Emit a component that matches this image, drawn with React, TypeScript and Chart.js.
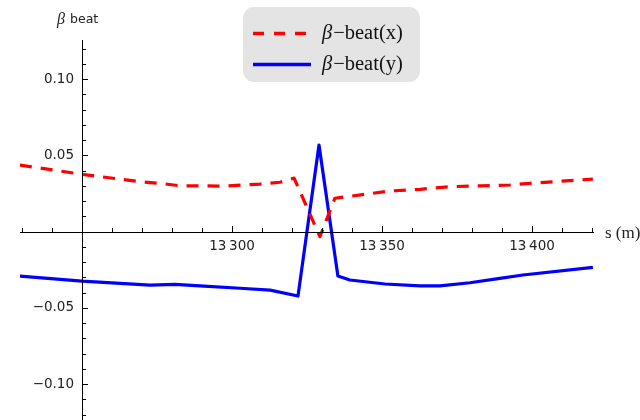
import React, { useEffect, useRef } from "react";
import { Chart, registerables } from "chart.js";

Chart.register(...registerables);

// s (m) positions and beta-beat values
const sX: number[] = [13229.3, 13250, 13269.3, 13276, 13282.7, 13297.7, 13309.3, 13316, 13320.7, 13329.3, 13334.3, 13352.7, 13362.7, 13372.7, 13382.7, 13392.7, 13399.3, 13420.3];
const betaBeatX: number[] = [0.0436, 0.0375, 0.0327, 0.0316, 0.0300, 0.0298, 0.0311, 0.0323, 0.0350, -0.0034, 0.0218, 0.0266, 0.0277, 0.0294, 0.0300, 0.0305, 0.0316, 0.0344];

const sY: number[] = [13229.3, 13250, 13272.7, 13281, 13289.3, 13302.7, 13312.7, 13322, 13329, 13335.3, 13339.3, 13351, 13362.7, 13369.3, 13379.3, 13389.3, 13397, 13420.3];
const betaBeatY: number[] = [-0.0292, -0.0325, -0.0351, -0.0346, -0.0357, -0.0372, -0.0384, -0.0423, 0.0567, -0.0292, -0.0318, -0.0344, -0.0357, -0.0357, -0.0336, -0.0307, -0.0285, -0.0235];

const xTickLabels: number[] = [13300, 13350, 13400];
const yTickLabels: number[] = [-0.1, -0.05, 0.05, 0.1];
const xMinorStep = 10;
const yMinorStep = 0.01;
const seriesNames: string[] = ["\u2212beat(x)", "\u2212beat(y)"];

const X_MIN = 13229.33;
const X_MAX = 13420.67;
const Y_MIN = -0.1236;
const Y_MAX = 0.1256;
const AXIS_X = 13250; // where vertical axis crosses

const fmtX = (v: number) => {
  const s = String(v);
  return s.slice(0, s.length - 3) + "\u2009" + s.slice(s.length - 3);
};
const fmtY = (v: number) => (v < 0 ? "\u2212" : "") + Math.abs(v).toFixed(2);

const axesPlugin = {
  id: "mmaAxes",
  afterDatasetsDraw(chart: any) {
    const ctx = chart.ctx;
    const xs = chart.scales.x;
    const ys = chart.scales.y;
    const y0 = ys.getPixelForValue(0);
    const x0 = xs.getPixelForValue(AXIS_X);
    ctx.save();
    ctx.strokeStyle = "#000";
    ctx.lineWidth = 1;
    // axes lines
    ctx.beginPath();
    ctx.moveTo(xs.left, Math.round(y0) + 0.5);
    ctx.lineTo(xs.right, Math.round(y0) + 0.5);
    ctx.moveTo(Math.round(x0) + 0.5, ys.top);
    ctx.lineTo(Math.round(x0) + 0.5, ys.bottom);
    ctx.stroke();
    // x ticks (upward)
    ctx.beginPath();
    const kStart = Math.ceil(X_MIN / xMinorStep);
    const kEnd = Math.floor(X_MAX / xMinorStep);
    for (let k = kStart; k <= kEnd; k++) {
      const v = k * xMinorStep;
      const px = Math.round(xs.getPixelForValue(v)) + 0.5;
      const major = v % 50 === 0;
      ctx.moveTo(px, Math.round(y0));
      ctx.lineTo(px, Math.round(y0) - (major ? 6 : 4));
    }
    // y ticks (rightward)
    const jStart = Math.ceil(Y_MIN / yMinorStep - 1e-6);
    const jEnd = Math.floor(Y_MAX / yMinorStep + 1e-6);
    for (let j = jStart; j <= jEnd; j++) {
      if (j === 0) continue;
      const py = Math.round(ys.getPixelForValue(j * yMinorStep)) + 0.5;
      const major = j % 5 === 0;
      ctx.moveTo(Math.round(x0), py);
      ctx.lineTo(Math.round(x0) + (major ? 6 : 4), py);
    }
    ctx.stroke();

    // tick labels
    ctx.fillStyle = "#222";
    ctx.font = "13.5px 'DejaVu Sans'";
    ctx.textAlign = "center";
    ctx.textBaseline = "middle";
    xTickLabels.forEach((v) => {
      ctx.fillText(fmtX(v), xs.getPixelForValue(v), y0 + 15);
    });
    ctx.textAlign = "right";
    yTickLabels.forEach((v) => {
      ctx.fillText(fmtY(v), x0 - 8, ys.getPixelForValue(v));
    });

    // axis titles
    ctx.textAlign = "left";
    ctx.font = "italic 16px 'Liberation Serif'";
    ctx.fillText("\u03B2", 57, 20);
    ctx.font = "12.5px 'DejaVu Sans'";
    ctx.fillText("beat", 70, 20);
    ctx.font = "17px 'Liberation Serif'";
    ctx.fillText("s (m)", 605, y0 + 2);

    // legend
    const bx = 243, by = 7, bw = 177, bh = 75, r = 11;
    ctx.fillStyle = "#e4e4e4";
    ctx.beginPath();
    ctx.roundRect(bx, by, bw, bh, r);
    ctx.fill();
    const rows = [
      { y: 33.5, color: "#ff0000", dash: [11, 10] },
      { y: 64.5, color: "#0000ff", dash: [] as number[] },
    ];
    rows.forEach((row, i) => {
      ctx.strokeStyle = row.color;
      ctx.lineWidth = 3.5;
      ctx.setLineDash(row.dash);
      ctx.beginPath();
      ctx.moveTo(253, row.y);
      ctx.lineTo(311, row.y);
      ctx.stroke();
      ctx.setLineDash([]);
      ctx.fillStyle = "#111";
      ctx.textBaseline = "middle";
      ctx.font = "italic 20.5px 'Liberation Serif'";
      ctx.fillText("\u03B2", 322, row.y);
      const w = ctx.measureText("\u03B2").width;
      ctx.font = "20.5px 'Liberation Serif'";
      ctx.fillText(seriesNames[i], 322 + w + 1, row.y);
    });
    ctx.restore();
  },
};

export default function App() {
  const ref = useRef<HTMLCanvasElement | null>(null);
  useEffect(() => {
    if (!ref.current) return;
    const chart = new Chart(ref.current, {
      type: "line",
      data: {
        datasets: [
          {
            label: "\u03B2\u2212beat(x)",
            data: sX.map((s, i) => ({ x: s, y: betaBeatX[i] })),
            borderColor: "#ff0000",
            borderWidth: 3.2,
            borderDash: [12, 9],
            borderJoinStyle: "round",
            pointRadius: 0,
            tension: 0,
            fill: false,
          },
          {
            label: "\u03B2\u2212beat(y)",
            data: sY.map((s, i) => ({ x: s, y: betaBeatY[i] })),
            borderColor: "#0000ff",
            borderWidth: 3.2,
            borderJoinStyle: "round",
            pointRadius: 0,
            tension: 0,
            fill: false,
          },
        ],
      },
      options: {
        animation: false,
        responsive: false,
        layout: { padding: { left: 20, right: 46, top: 40, bottom: 0 } },
        plugins: { legend: { display: false }, tooltip: { enabled: false } },
        scales: {
          x: { type: "linear", min: X_MIN, max: X_MAX, display: false },
          y: { type: "linear", min: Y_MIN, max: Y_MAX, display: false },
        },
      },
      plugins: [axesPlugin],
    });
    return () => chart.destroy();
  }, []);
  return (
    <div style={{ position: "absolute", left: 0, top: 0, width: 640, height: 420, background: "#fff" }}>
      <canvas ref={ref} width={640} height={420} />
    </div>
  );
}
